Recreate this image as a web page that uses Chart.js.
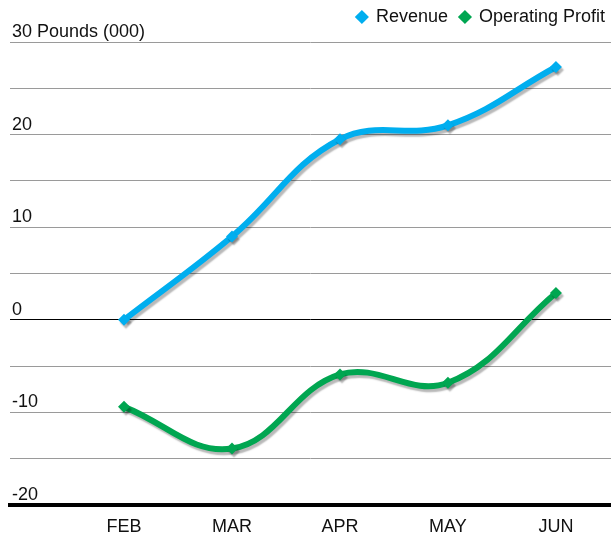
<!DOCTYPE html>
<html>
<head>
<meta charset="utf-8">
<script src="https://cdn.jsdelivr.net/npm/chart.js@4"></script>
<style>
  html, body { margin: 0; padding: 0; background: #fff; }
  #wrap { width: 611px; height: 539px; }
</style>
</head>
<body>
<div id="wrap"><canvas id="profitChart" width="611" height="539"></canvas></div>
<script>
// --- data ---
const months = ['FEB', 'MAR', 'APR', 'MAY', 'JUN'];
const revenue = [0, 9, 19.5, 21, 27.3];
const operatingProfit = [-9.4, -13.9, -5.9, -6.8, 2.9];
const yTicks = [-20, -10, 0, 10, 20, 30];

const FONT = 'Arial, "Liberation Sans", sans-serif';

// soft grey shadow under each line, like the original
const shadowPlugin = {
  id: 'lineShadow',
  beforeDatasetDraw(chart) {
    const ctx = chart.ctx;
    ctx.save();
    ctx.shadowColor = 'rgba(0,0,0,0.28)';
    ctx.shadowOffsetX = 2;
    ctx.shadowOffsetY = 3;
    ctx.shadowBlur = 1.5;
  },
  afterDatasetDraw(chart) {
    chart.ctx.restore();
  }
};

// a bit more room under the legend
const legendGap = {
  id: 'legendGap',
  beforeInit(chart) {
    const origFit = chart.legend.fit;
    chart.legend.fit = function () {
      origFit.call(this);
      this.height += 6;
    };
  }
};

const toPoints = arr => arr.map((v, i) => ({ x: i, y: v }));

new Chart(document.getElementById('profitChart'), {
  type: 'line',
  data: {
    datasets: [
      {
        label: 'Revenue',
        data: toPoints(revenue),
        borderColor: '#00AEEF',
        backgroundColor: '#00AEEF',
        borderWidth: 6,
        tension: 0.4,
        pointStyle: 'rectRot',
        pointRadius: 6,
        pointBorderWidth: 0
      },
      {
        label: 'Operating Profit',
        data: toPoints(operatingProfit),
        borderColor: '#00A651',
        backgroundColor: '#00A651',
        borderWidth: 6,
        tension: 0.4,
        pointStyle: 'rectRot',
        pointRadius: 6,
        pointBorderWidth: 0
      }
    ]
  },
  plugins: [shadowPlugin, legendGap],
  options: {
    responsive: false,
    animation: false,
    layout: { autoPadding: false, padding: { left: 6, right: -6, top: -4, bottom: 1 } },
    plugins: {
      tooltip: { enabled: false },
      legend: {
        position: 'top',
        align: 'end',
        labels: {
          usePointStyle: true,
          pointStyle: 'rectRot',
          boxWidth: 10,
          boxHeight: 10,
          padding: 12,
          color: '#111',
          font: { family: FONT, size: 18 }
        }
      }
    },
    scales: {
      x: {
        type: 'linear',
        min: -1.056,
        max: 4.51,
        afterBuildTicks: s => { s.ticks = months.map((m, i) => ({ value: i })); },
        afterFit: s => { s.paddingRight = 0; s.paddingLeft = 0; s.height = 33; },
        ticks: {
          callback: v => months[v],
          color: '#111',
          padding: 13,
          font: { family: FONT, size: 18, lineHeight: 1 }
        },
        grid: { display: false, drawTicks: false },
        border: { display: true, color: '#000', width: 4 }
      },
      y: {
        min: -20,
        max: 30,
        ticks: {
          stepSize: 5,
          mirror: true,
          padding: 2,
          labelOffset: -10,
          color: '#111',
          font: { family: FONT, size: 18 },
          callback: v => (v === 30 ? '30 Pounds (000)' : (yTicks.includes(v) ? String(v) : ''))
        },
        grid: {
          drawTicks: false,
          color: ctx => (ctx.tick && ctx.tick.value === 0 ? '#000' : '#9a9a9a'),
          lineWidth: 1
        },
        border: { display: false }
      }
    }
  }
});
</script>
</body>
</html>
